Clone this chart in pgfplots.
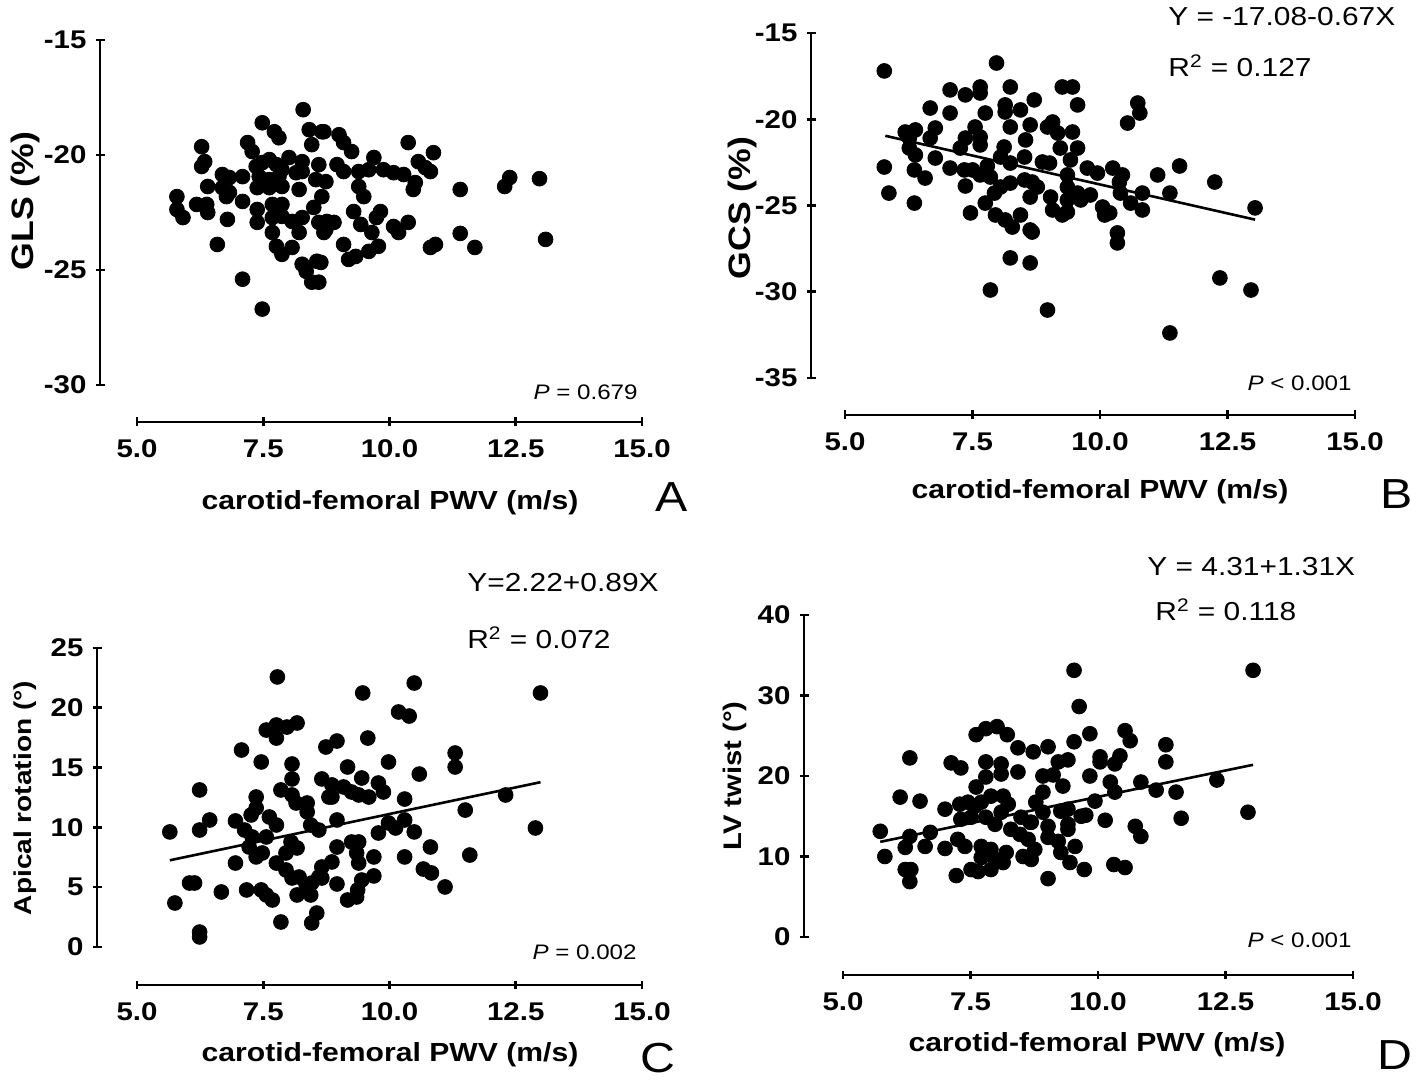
\documentclass[border=0pt]{standalone}
\usepackage{pgfplots}
\pgfplotsset{compat=1.18}
\usepackage{fontspec}
\setmainfont{Liberation Sans}[FakeStretch=1.15]
\pgfplotsset{
  base/.style={major tick style={line width=1.3pt,black},
    tick align=outside, major tick length=4.5pt, enlargelimits=false, clip=false,
    tick label style={font=\bfseries\fontsize{12.8}{15}\selectfont}},
  dataax/.style={base, anchor=south west, axis y line=left, axis x line=none, xtick=\empty, xmax=15,
    axis line style={-,line width=1.3pt,black}, y axis line style={-}, yticklabel style={xshift=-1pt}},
  xax/.style={base, anchor=south west, y=1pt, ymin=0, ymax=1, xmin=5, xmax=15, axis x line=bottom, axis y line=none,
    xtick={5,7.5,10,12.5,15}, xticklabels={5.0,7.5,10.0,12.5,15.0}, ytick=\empty,
    axis line style={-,line width=1.3pt,black}, x axis line style={-}, xticklabel style={yshift=-3pt}},
  dots/.style={only marks, mark=*, mark size=3.7pt, black, mark options={fill=black}},
  reg/.style={no marks, black, line width=1.3pt},
}
\newcommand{\axlab}{\bfseries\fontsize{13.1}{16}\selectfont}
\newcommand{\eqf}{\fontsize{13}{15}\selectfont}
\newcommand{\pf}{\fontsize{10.5}{12}\selectfont}
\newcommand{\letf}{\fontsize{21}{24}\selectfont}
\begin{document}
\begin{tikzpicture}
\useasboundingbox (0,0) rectangle (709pt,540.5pt);
% ---------------- Panel A ----------------
\begin{axis}[dataax, at={(50pt,348pt)}, x=25.25pt, y=11.5pt, xmin=4.267, ymin=-30, ymax=-15,
  ytick={-30,-25,-20,-15}, yticklabels={-30,-25,-20,-15}]
\addplot[dots] coordinates {
(8.29,-18.03)(7.48,-18.60)(7.72,-18.99)(7.81,-19.25)(8.41,-18.90)(8.66,-18.99)(6.28,-19.64)(7.19,-19.46)
(7.28,-19.85)(8.46,-19.55)(6.34,-20.29)(6.28,-20.50)(6.69,-20.85)(6.83,-20.98)(7.09,-20.94)(7.36,-20.50)
(7.48,-20.33)(7.62,-20.20)(7.76,-20.42)(8.01,-20.11)(7.87,-20.64)(8.27,-20.29)(8.60,-20.42)(7.42,-20.94)
(7.62,-21.07)(7.81,-20.94)(8.15,-20.77)(8.27,-20.72)(8.54,-21.07)(8.74,-21.16)(6.40,-21.37)(6.69,-21.42)
(6.83,-21.63)(7.38,-21.42)(7.62,-21.42)(7.87,-21.37)(8.21,-21.50)(5.79,-21.81)(7.09,-22.02)(6.18,-22.15)
(6.38,-22.15)(6.40,-22.50)(6.77,-21.81)(8.66,-21.81)(7.68,-22.15)(7.87,-22.15)(8.50,-22.28)(5.79,-22.37)
(5.91,-22.72)(7.38,-22.37)(7.38,-22.93)(6.79,-22.80)(7.68,-22.72)(7.87,-22.67)(8.07,-22.89)(8.27,-22.72)
(8.60,-22.93)(8.74,-23.24)(7.68,-23.37)(8.21,-23.37)(7.76,-23.97)(8.07,-24.02)(7.87,-24.32)(6.59,-23.89)
(8.27,-24.75)(8.35,-25.06)(8.56,-24.62)(8.46,-25.53)(7.09,-25.40)(7.48,-26.70)
(8.70,-18.99)(9.00,-19.12)(9.09,-19.46)(9.25,-19.85)(10.37,-19.46)(10.87,-19.90)(8.96,-20.42)(9.09,-20.72)
(9.69,-20.11)(9.39,-20.72)(9.59,-20.64)(9.88,-20.64)(10.08,-20.77)(10.28,-20.85)(10.57,-20.29)(10.71,-20.55)
(10.81,-20.72)(9.39,-21.37)(9.49,-21.81)(10.51,-21.20)(10.47,-21.50)(11.40,-21.50)(12.38,-20.98)(12.28,-21.37)
(12.97,-21.03)(9.29,-22.46)(9.82,-22.46)(9.74,-22.72)(8.76,-22.89)(8.90,-22.93)(8.70,-23.37)(9.43,-23.02)
(9.65,-23.37)(10.08,-23.11)(10.18,-23.37)(10.37,-22.93)(11.40,-23.41)(9.09,-23.89)(9.19,-24.54)(9.33,-24.41)
(9.59,-24.19)(9.78,-23.97)(10.81,-24.02)(10.91,-23.89)(11.69,-24.02)(13.09,-23.67)(8.64,-24.67)(8.60,-25.53)
};
\end{axis}
\begin{axis}[xax, at={(68.5pt,329.5pt)}, x=25.25pt]
\end{axis}
\node[anchor=east,font=\pf,inner sep=0pt] at (319pt,344.5pt) {\textit{P} = 0.679};
\node[font=\letf] at (336pt,292pt) {A};
\node[font=\axlab] at (195pt,289pt) {carotid-femoral PWV (m/s)};
\node[font=\bfseries\fontsize{15.5}{18}\selectfont,rotate=90] at (12.5pt,440pt) {GLS (\%)};
% ---------------- Panel B ----------------
\begin{axis}[dataax, at={(405.5pt,351.5pt)}, x=25.5pt, y=8.625pt, xmin=4.333, ymin=-35, ymax=-15,
  ytick={-35,-30,-25,-20,-15}, yticklabels={-35,-30,-25,-20,-15}]
\addplot[reg] coordinates {(5.79,-20.96)(13.04,-25.82)};
\addplot[dots] coordinates {
(5.77,-17.20)(7.97,-16.74)(7.06,-18.30)(7.36,-18.59)(7.65,-18.13)(7.65,-18.48)(8.24,-18.13)(6.67,-19.35)
(7.06,-19.64)(7.75,-19.64)(8.14,-19.17)(8.14,-19.58)(8.44,-19.46)(8.71,-18.88)(6.18,-20.74)(6.38,-20.62)
(6.26,-21.09)(6.77,-20.51)(6.67,-21.09)(7.55,-20.45)(7.65,-21.03)(7.36,-21.09)(7.26,-21.67)(7.65,-21.49)
(8.24,-20.45)(8.63,-20.33)(8.54,-21.20)(6.26,-21.67)(6.38,-22.07)(6.77,-22.25)(5.77,-22.77)(6.36,-22.94)
(6.57,-23.41)(7.06,-22.83)(7.34,-22.94)(7.50,-22.94)(7.65,-23.23)(7.79,-22.71)(8.12,-21.61)(8.05,-22.19)
(8.24,-22.54)(8.52,-22.19)(7.36,-23.87)(7.85,-23.35)(8.05,-23.93)(7.93,-24.28)(7.75,-24.86)(8.24,-23.70)
(8.52,-23.52)(8.63,-24.51)(5.86,-24.28)(6.36,-24.86)(7.46,-25.43)(7.95,-25.55)(8.14,-25.84)(8.28,-26.25)
(8.44,-25.55)(8.63,-26.42)(8.24,-28.04)(8.63,-28.33)(7.85,-29.90)
(9.26,-18.13)(9.46,-18.13)(9.56,-19.17)(10.74,-19.06)(10.78,-19.64)(10.54,-20.22)(8.97,-20.45)(9.07,-20.16)
(9.17,-20.80)(9.46,-20.74)(9.56,-21.67)(9.22,-21.67)(8.87,-22.48)(9.01,-22.54)(9.42,-22.36)(9.36,-23.23)
(9.75,-22.83)(9.95,-23.12)(10.25,-22.83)(10.44,-23.23)(10.38,-23.64)(11.13,-23.23)(11.56,-22.71)(12.25,-23.64)
(8.67,-23.64)(8.77,-23.93)(9.36,-23.93)(9.56,-24.28)(9.81,-24.39)(9.62,-24.68)(9.36,-24.68)(9.03,-24.51)
(9.07,-25.26)(9.26,-25.55)(9.36,-25.38)(10.05,-25.09)(10.09,-25.55)(10.19,-25.43)(10.40,-24.28)(10.60,-24.86)
(10.83,-24.28)(10.83,-25.26)(11.37,-24.28)(13.04,-25.14)(8.67,-26.54)(10.34,-26.59)(10.34,-27.17)(8.97,-31.06)
(12.35,-29.20)(12.96,-29.90)(11.37,-32.39)
};
\end{axis}
\begin{axis}[xax, at={(422.5pt,333pt)}, x=25.5pt]
\end{axis}
\node[anchor=west,font=\eqf,inner sep=0pt] at (584pt,532pt) {Y = -17.08-0.67X};
\node[anchor=west,font=\eqf,inner sep=0pt] at (584pt,507.5pt) {R\textsuperscript{2} = 0.127};
\node[anchor=east,font=\pf,inner sep=0pt] at (676pt,349pt) {\textit{P} {\textless} 0.001};
\node[font=\letf] at (698.5pt,293.5pt) {B};
\node[font=\axlab] at (550pt,294.5pt) {carotid-femoral PWV (m/s)};
\node[font=\bfseries\fontsize{15.5}{18}\selectfont,rotate=90] at (371pt,436.5pt) {GCS (\%)};
% ---------------- Panel C ----------------
\begin{axis}[dataax, at={(48.5pt,67pt)}, x=25.25pt, y=5.98pt, xmin=4.208, ymin=0, ymax=25,
  ytick={0,5,10,15,20,25}, yticklabels={0,5,10,15,20,25}]
\addplot[reg] coordinates {(5.65,7.25)(12.99,13.78)};
\addplot[dots] coordinates {
(7.78,22.58)(7.56,18.14)(7.76,18.56)(7.97,18.39)(8.17,18.73)(7.76,17.47)(7.07,16.47)(8.74,16.72)
(7.46,15.47)(8.07,15.30)(6.24,13.13)(7.85,13.13)(8.07,14.05)(8.07,12.71)(8.15,12.04)(8.37,12.04)
(8.37,11.29)(8.66,14.05)(8.80,12.54)(7.36,12.54)(7.36,11.62)(7.26,11.04)(6.44,10.62)(6.24,9.78)
(5.65,9.62)(6.95,10.54)(7.13,9.78)(7.28,9.20)(7.22,8.36)(7.62,10.87)(7.76,10.20)(7.56,9.20)
(8.44,10.20)(8.60,9.78)(8.05,8.78)(7.95,7.86)(8.17,8.28)(7.36,7.53)(7.48,7.86)(6.95,7.02)
(7.76,7.02)(7.95,6.44)(8.07,5.77)(8.21,5.85)(8.66,6.69)(8.60,5.85)(8.46,5.35)(8.35,5.18)
(6.04,5.35)(6.14,5.35)(6.67,4.60)(7.17,4.77)(7.46,4.77)(7.56,4.35)(7.68,3.93)(8.17,4.35)
(8.44,4.35)(5.75,3.68)(7.85,2.09)(8.56,2.84)(8.46,2.01)(6.24,1.25)(6.24,0.84)
(10.49,22.07)(9.47,21.24)(12.99,21.24)(10.18,19.65)(10.39,19.31)(9.57,17.47)(8.96,17.22)(9.98,15.47)
(9.17,15.05)(11.30,16.22)(11.30,15.05)(10.59,14.46)(8.86,13.55)(9.09,13.38)(9.25,12.96)(9.39,12.71)
(9.59,12.54)(8.86,12.54)(9.45,14.13)(9.78,13.71)(9.88,12.96)(10.30,12.37)(12.30,12.71)(11.50,11.45)
(8.96,10.62)(9.98,10.37)(10.12,9.95)(10.30,10.62)(9.78,9.53)(10.49,9.62)(12.89,9.95)(9.25,8.78)
(9.39,8.78)(9.35,7.86)(9.39,7.02)(8.96,8.36)(9.69,7.53)(10.30,7.53)(10.81,8.36)(11.59,7.69)
(8.86,7.11)(8.66,5.77)(9.45,5.60)(9.69,5.94)(8.96,5.27)(9.37,4.77)(9.35,4.18)(9.17,3.93)
(10.67,6.52)(10.83,6.19)(11.10,5.02)
};
\end{axis}
\begin{axis}[xax, at={(68.5pt,48pt)}, x=25.25pt]
\end{axis}
\node[anchor=west,font=\eqf,inner sep=0pt] at (233.5pt,249pt) {Y=2.22+0.89X};
\node[anchor=west,font=\eqf,inner sep=0pt] at (233.5pt,221.5pt) {R\textsuperscript{2} = 0.072};
\node[anchor=east,font=\pf,inner sep=0pt] at (318.5pt,64.5pt) {\textit{P} = 0.002};
\node[font=\letf] at (329pt,11.5pt) {C};
\node[font=\axlab] at (195pt,13pt) {carotid-femoral PWV (m/s)};
\node[font=\bfseries\fontsize{12.2}{15}\selectfont,rotate=90] at (12.5pt,141.5pt) {Apical rotation (°)};
% ---------------- Panel D ----------------
\begin{axis}[dataax, at={(402pt,72pt)}, x=25.5pt, y=4.025pt, xmin=4.235, ymin=0, ymax=40,
  ytick={0,10,20,30,40}, yticklabels={0,10,20,30,40}]
\addplot[reg] coordinates {(5.73,11.82)(13.04,21.39)};
\addplot[dots] coordinates {
(7.61,25.13)(7.80,25.88)(8.02,26.13)(8.22,25.13)(8.43,23.50)(8.73,23.00)(6.31,22.25)(7.12,21.63)
(7.31,21.00)(7.80,21.75)(8.10,21.50)(8.10,20.25)(8.43,20.50)(7.80,19.88)(7.61,18.63)(6.12,17.38)
(6.51,16.88)(7.00,15.88)(7.29,16.50)(7.45,16.75)(7.59,16.25)(7.71,16.75)(7.90,17.50)(8.14,17.50)
(8.24,16.50)(8.10,15.50)(7.31,14.63)(7.51,14.88)(7.80,14.88)(7.98,14.00)(8.49,14.88)(8.67,14.25)
(8.29,13.38)(8.47,12.75)(8.63,12.13)(5.73,13.13)(6.31,12.50)(6.71,13.00)(6.22,11.13)(6.61,11.25)
(5.82,10.00)(7.00,11.00)(7.25,12.13)(7.39,11.25)(7.71,11.25)(7.90,10.88)(7.71,9.88)(7.98,9.63)
(8.20,10.50)(8.14,9.25)(8.53,10.00)(6.22,8.38)(6.33,8.38)(6.31,6.88)(7.51,8.38)(7.65,8.13)
(7.90,8.38)(7.22,7.63)
(9.53,33.13)(13.04,33.13)(9.63,28.63)(9.84,25.25)(9.53,24.25)(10.53,25.63)(10.63,24.38)(11.33,23.88)
(11.33,21.75)(9.02,23.63)(9.22,21.75)(9.41,22.00)(10.04,22.38)(10.04,21.75)(10.43,22.50)(10.33,21.50)
(8.92,20.00)(9.12,20.13)(9.84,20.00)(9.31,18.75)(10.24,19.25)(10.33,18.00)(10.84,19.25)(11.14,18.25)
(11.53,18.00)(12.33,19.50)(8.92,18.00)(8.78,16.75)(9.94,16.88)(8.92,15.50)(9.27,15.63)(9.41,15.88)
(9.67,15.00)(9.76,15.13)(8.69,14.25)(9.02,13.75)(9.41,13.38)(9.41,14.00)(10.14,14.50)(11.63,14.75)
(12.94,15.50)(10.73,13.75)(10.84,12.50)(9.02,12.38)(9.22,11.88)(8.76,10.88)(8.69,9.63)(9.27,10.50)
(9.55,11.25)(9.45,9.25)(9.73,8.38)(10.31,9.00)(10.53,8.63)(9.02,7.25)
};
\end{axis}
\begin{axis}[xax, at={(421.5pt,53pt)}, x=25.5pt]
\end{axis}
\node[anchor=west,font=\eqf,inner sep=0pt] at (573.5pt,257pt) {Y = 4.31+1.31X};
\node[anchor=west,font=\eqf,inner sep=0pt] at (577.5pt,235.5pt) {R\textsuperscript{2} = 0.118};
\node[anchor=east,font=\pf,inner sep=0pt] at (676pt,70.5pt) {\textit{P} {\textless} 0.001};
\node[font=\letf] at (697.5pt,13pt) {D};
\node[font=\axlab] at (548.5pt,18pt) {carotid-femoral PWV (m/s)};
\node[font=\bfseries\fontsize{12.7}{15}\selectfont,rotate=90] at (367.5pt,152.5pt) {LV twist (°)};
\end{tikzpicture}
\end{document}
